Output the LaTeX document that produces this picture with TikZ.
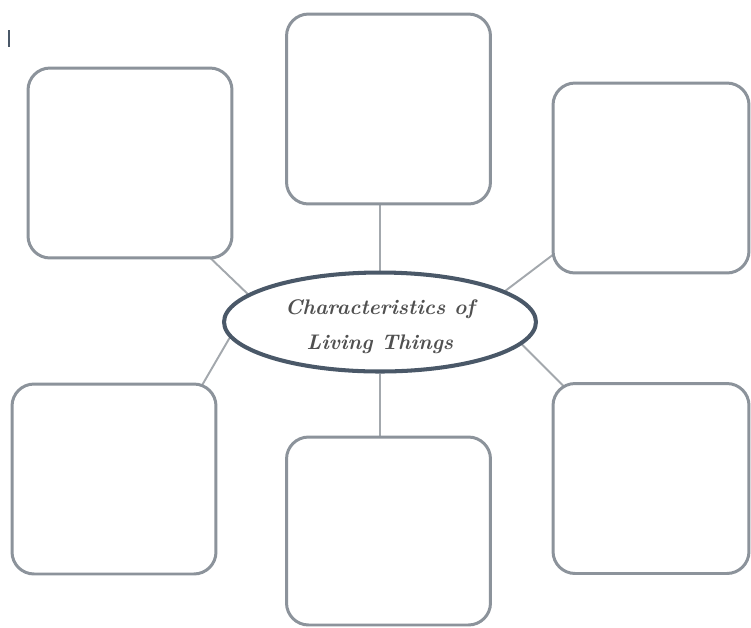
\documentclass[tikz,border=0pt]{standalone}
\usetikzlibrary{shapes.geometric,calc,backgrounds}
\definecolor{boxgray}{HTML}{8C939B}
\definecolor{ovalblue}{HTML}{4A5868}
\definecolor{linkgray}{HTML}{A3A8AD}
\definecolor{textgray}{HTML}{505050}

\begin{document}
\begin{tikzpicture}[x=0.02cm, y=-0.02cm,
    blank/.style={draw=boxgray, line width=1.7pt, rounded corners=0.44cm, fill=white,
      minimum width=4.08cm, minimum height=3.8cm, inner sep=0pt},
    topic/.style={ellipse, draw=ovalblue, line width=2.3pt, fill=white,
      minimum width=6.24cm, minimum height=1.98cm, inner sep=0pt, align=center,
      text=textgray, font=\fontsize{12}{20}\selectfont\bfseries\itshape},
    link/.style={draw=linkgray, line width=1.1pt}]

  \useasboundingbox (0,0) rectangle (751,627);

  % Central oval
  \node[topic] (ell) at (380,322) {\rule{0pt}{14pt}Characteristics of\\Living Things};

  % Empty boxes
  \node[blank] (tl) at (130,163) {};
  \node[blank] (tc) at (388.5,109) {};
  \node[blank, minimum width=3.92cm] (tr) at (651,178) {};
  \node[blank] (bl) at (114,479) {};
  \node[blank, minimum height=3.76cm] (bc) at (388.5,531) {};
  \node[blank, minimum width=3.92cm] (br) at (651,478.5) {};

  % Connectors (behind the boxes)
  \begin{scope}[on background layer]
    \draw[link] (ell.168) -- ($(tl.south east)+(-32,-10)$);
    \draw[link] (ell.north) -- (ell.north |- tc.center);
    \draw[link] (ell.14) -- ($(tr.south west)+(19,-33)$);
    \draw[link] (ell.186) -- ($(bl.north east)+(-22,14)$);
    \draw[link] (ell.south) -- (ell.south |- bc.center);
    \draw[link] (ell.-9) -- ($(br.north west)+(32,24)$);
  \end{scope}

  % Small mark top left
  \draw[ovalblue, line width=1.1pt] (9,30) -- (9,47);
\end{tikzpicture}
\end{document}
